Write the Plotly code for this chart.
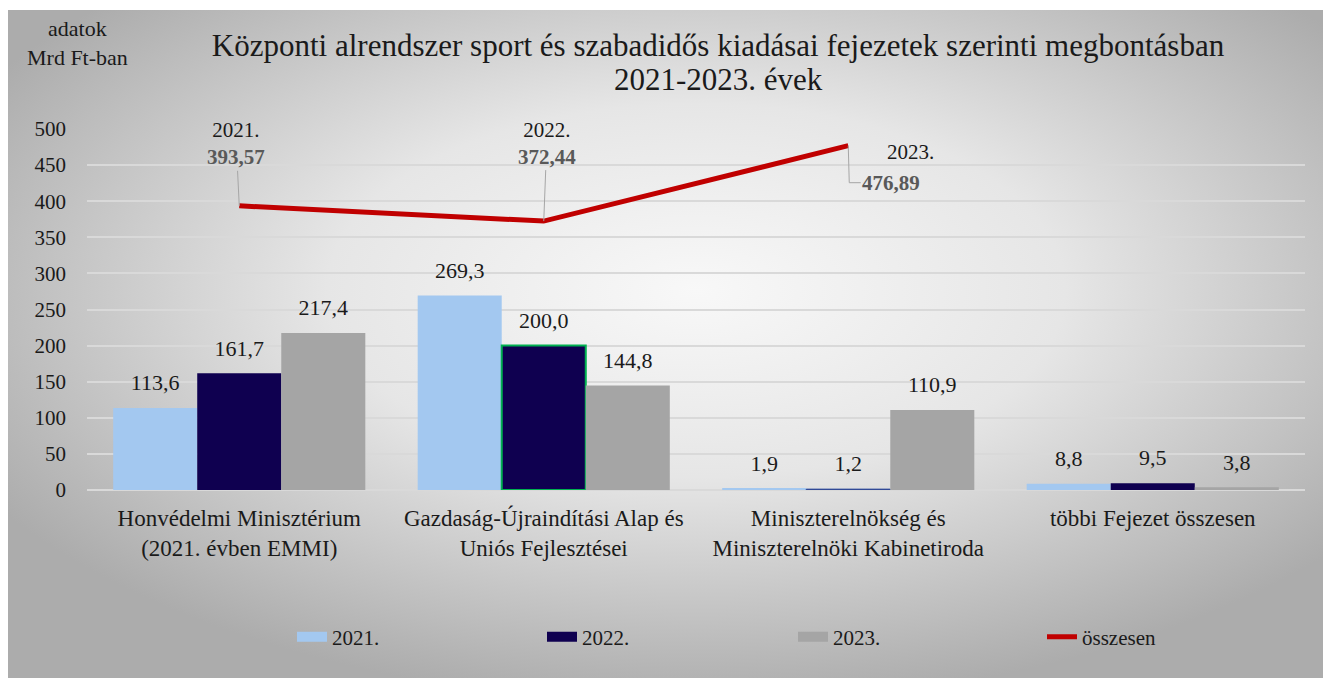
import base64
import plotly.graph_objects as go

categories = ["Honvédelmi Minisztérium<br>(2021. évben EMMI)",
              "Gazdaság-Újraindítási Alap és<br>Uniós Fejlesztései",
              "Miniszterelnökség és<br>Miniszterelnöki Kabinetiroda",
              "többi Fejezet összesen"]
v2021 = [113.6, 269.3, 1.9, 8.8]
v2022 = [161.7, 200.0, 1.2, 9.5]
v2023 = [217.4, 144.8, 110.9, 3.8]
total = [393.57, 372.44, 476.89]
total_years = ["2021.", "2022.", "2023."]
y_ticks = [0, 50, 100, 150, 200, 250, 300, 350, 400, 450, 500]

series_names = ["2021.", "2022.", "2023.", "összesen"]
colors = ["#A3C8F0", "#0F0050", "#A5A5A5", "#C00000"]

def hu(v, d=1):
    return f"{v:.{d}f}".replace(".", ",")

FONT = "'Liberation Serif', 'DejaVu Serif', serif"
TXT = "#1a1a1a"

W, H = 1323, 670
L, R, T, B = 79, 26, 121, 188
pw, ph = W - L - R, H - T - B
YMAX = 500

fig = go.Figure()
bar_lines = [dict(width=0),
             dict(color=["#0F0050", "#00B050", "#2F4F9F", "#0F0050"], width=[0, 2, 1, 0]),
             dict(width=0)]
legends = ["legend", "legend2", "legend3", "legend4"]
for name, vals, col, ml in zip(series_names[:3], [v2021, v2022, v2023], colors[:3], bar_lines):
    fig.add_trace(go.Bar(name=name, x=categories, y=vals, marker_color=col, marker_line=ml,
                         showlegend=False, offsetgroup=name))
# value labels, grouped like the bars
for name, vals in zip(series_names[:3], [v2021, v2022, v2023]):
    fig.add_trace(go.Scatter(x=categories, y=vals, mode="markers+text", text=[hu(v) for v in vals],
                             textposition="top center", offsetgroup=name, showlegend=False,
                             marker=dict(size=18, opacity=0), hoverinfo="skip", cliponaxis=False,
                             textfont=dict(size=22, color=TXT, family=FONT)))
# total line on a separate overlaid subplot (so it is not grouped)
fig.add_trace(go.Scatter(name="összesen", x=categories[:3], y=total, mode="lines", xaxis="x2", yaxis="y2",
                         line=dict(color=colors[3], width=5), showlegend=False, cliponaxis=False))
# legend entries
for name, col, lg in zip(series_names, colors, legends):
    fig.add_trace(go.Scatter(name=name, x=[None], y=[None], mode="lines", legend=lg,
                             line=dict(color=col, width=14 if name != "összesen" else 5)))

# gradient background
svg = ('<svg xmlns="http://www.w3.org/2000/svg" width="1000" height="500" preserveAspectRatio="none">'
       '<defs><radialGradient id="g" cx="52%" cy="42%" r="62%">'
       '<stop offset="0" stop-color="#f8f8f8"/><stop offset="0.45" stop-color="#e6e6e6"/>'
       '<stop offset="1" stop-color="#acacac"/></radialGradient></defs>'
       '<rect width="1000" height="500" fill="url(#g)"/></svg>')
src = "data:image/svg+xml;base64," + base64.b64encode(svg.encode()).decode()
fig.add_layout_image(dict(source=src, xref="paper", yref="paper",
                          x=-L / pw, y=(H - B - 2) / ph,
                          sizex=W / pw, sizey=(H - 2) / ph,
                          sizing="stretch", layer="below", xanchor="left", yanchor="top"))

ann = []
lead = dict(showarrow=True, arrowhead=0, arrowwidth=1, arrowcolor="#A6A6A6", standoff=0)
val_font = dict(size=21, color="#595959", family=FONT)
offs = [(-3, -62), (3, -78)]
for i in range(2):
    txt = f"{total_years[i]}<br><span style='color:#595959'><b>{hu(total[i], 2)}</b></span>"
    ann.append(dict(x=categories[i], y=total[i], text=txt, ax=offs[i][0], ay=offs[i][1],
                    font=dict(size=21, color=TXT, family=FONT), **lead))
# 2023: elbow leader (vertical part as a pixel-sized shape anchored at the point)
fig.add_shape(type="line", xref="x", yref="y", xsizemode="pixel", ysizemode="pixel",
              xanchor=categories[2], yanchor=total[2], x0=0, x1=1, y0=0, y1=-37,
              line=dict(color="#A6A6A6", width=1))
ann.append(dict(x=categories[2], y=total[2], text=f"<b>{hu(total[2], 2)}</b>", yshift=-37, xshift=1,
                ax=42, ay=0, font=val_font, **lead))
ann.append(dict(x=categories[2], y=total[2], text=total_years[2], showarrow=False, xshift=62, yshift=-6,
                font=dict(size=21, color=TXT, family=FONT)))
ann.append(dict(xref="paper", yref="paper", x=(69 - L) / pw, y=(H - B - 35) / ph,
                text="adatok<br>Mrd Ft-ban", showarrow=False, xanchor="center", yanchor="middle",
                font=dict(size=22, color=TXT, family=FONT)))
# second title line
ann.append(dict(xref="paper", yref="paper", x=(710 - L) / pw, y=(H - B - 72) / ph,
                text="2021-2023. évek", showarrow=False, xanchor="center", yanchor="middle",
                font=dict(size=31, color=TXT, family=FONT)))

legend_x = [284, 534, 785, 1034]
leg_y = -(629 - (H - B)) / ph
legend_layout = {}
for lg, lx in zip(legends, legend_x):
    legend_layout[lg] = dict(orientation="h", x=(lx - L) / pw, xanchor="left", y=leg_y, yanchor="middle",
                             font=dict(size=21, color=TXT, family=FONT), bgcolor="rgba(0,0,0,0)")

fig.update_layout(
    width=W, height=H,
    margin=dict(l=L, r=R, t=T, b=B),
    paper_bgcolor="white", plot_bgcolor="rgba(0,0,0,0)",
    font=dict(family=FONT, color=TXT),
    title=dict(text="Központi alrendszer sport és szabadidős kiadásai fejezetek szerinti megbontásban",
               x=710 / W, xanchor="center", y=1 - 37 / H, yanchor="middle",
               font=dict(size=31, color=TXT, family=FONT)),
    barmode="group", bargap=0.172, bargroupgap=0,
    scattermode="group", scattergap=0.172,
    xaxis=dict(showgrid=False, tickfont=dict(size=23, color=TXT), ticks="", showline=False,
               ticklabelstandoff=12),
    xaxis2=dict(overlaying="x", visible=False, range=[-0.5, len(categories) - 0.5],
                categoryorder="array", categoryarray=categories, type="category"),
    yaxis=dict(range=[0, YMAX], tickvals=y_ticks, showgrid=True, gridcolor="#D9D9D9", gridwidth=2,
               zeroline=True, zerolinecolor="#D9D9D9", zerolinewidth=2,
               tickfont=dict(size=21, color=TXT), ticklabelstandoff=20),
    yaxis2=dict(overlaying="y", visible=False, range=[0, YMAX]),
    annotations=ann,
    **legend_layout,
)

fig.write_html("out.html")
